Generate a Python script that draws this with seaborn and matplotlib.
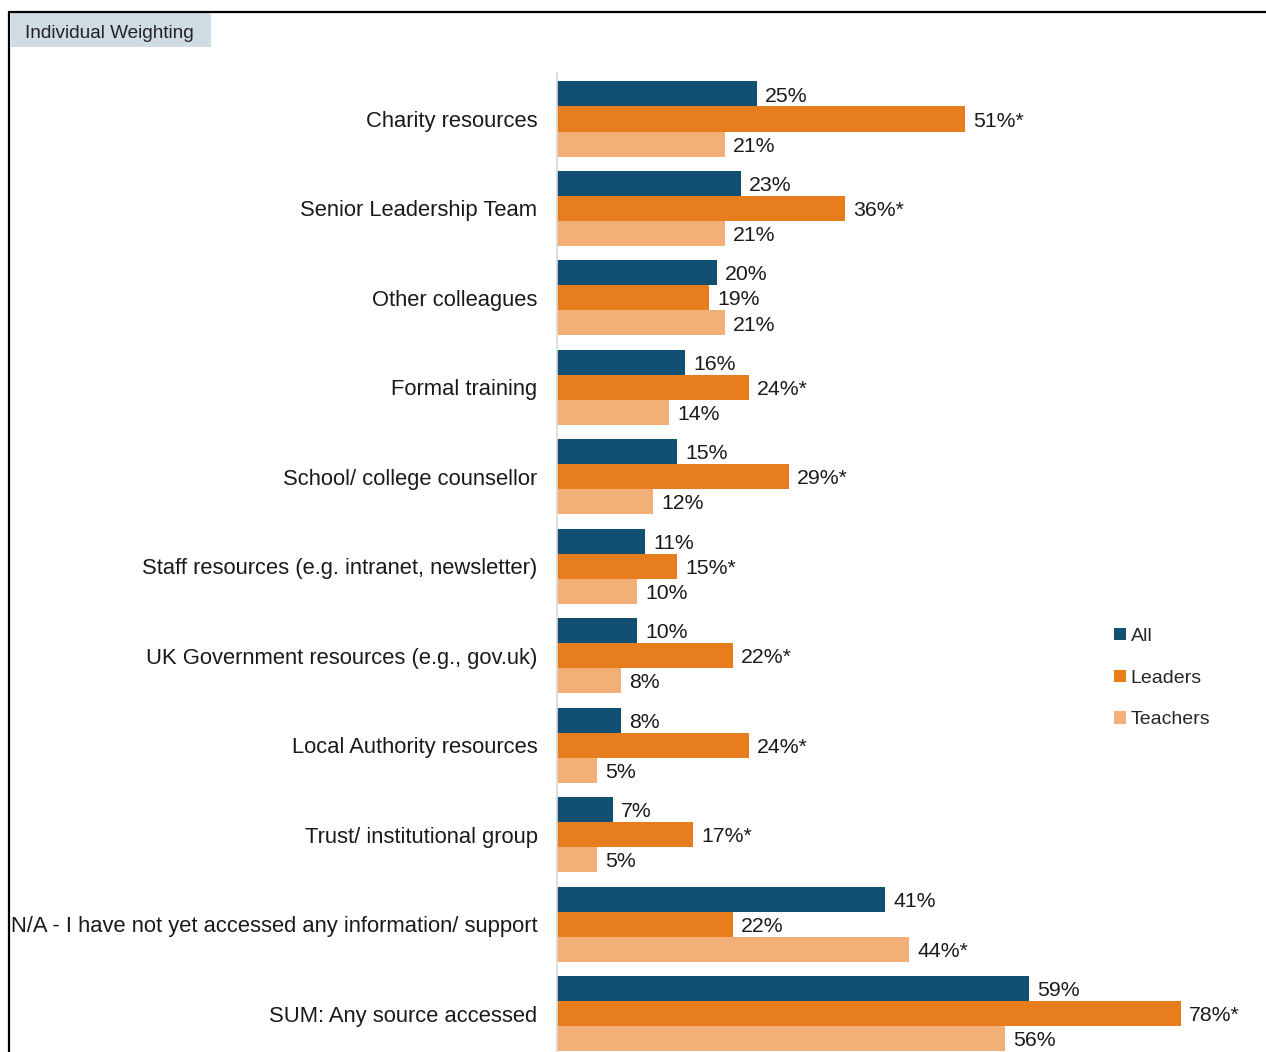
import matplotlib
matplotlib.use("Agg")
import matplotlib.pyplot as plt
import seaborn as sns
import pandas as pd
from matplotlib.lines import Line2D
from matplotlib.patches import Rectangle

categories = [
    "Charity resources",
    "Senior Leadership Team",
    "Other colleagues",
    "Formal training",
    "School/ college counsellor",
    "Staff resources (e.g. intranet, newsletter)",
    "UK Government resources (e.g., gov.uk)",
    "Local Authority resources",
    "Trust/ institutional group",
    "N/A - I have not yet accessed any information/ support",
    "SUM: Any source accessed",
]
series_names = ["All", "Leaders", "Teachers"]
all_vals = [25, 23, 20, 16, 15, 11, 10, 8, 7, 41, 59]
leaders_vals = [51, 36, 19, 24, 29, 15, 22, 24, 17, 22, 78]
teachers_vals = [21, 21, 21, 14, 12, 10, 8, 5, 5, 44, 56]
all_star = [False] * 11
leaders_star = [True, True, False, True, True, True, True, True, True, False, True]
teachers_star = [False] * 9 + [True, False]

colors = ["#114f73", "#e87d1e", "#f2b078"]

sns.set_theme(style="white")
plt.rcParams["font.family"] = ["Liberation Sans", "DejaVu Sans"]

rows = []
for name, vals, stars in zip(series_names, [all_vals, leaders_vals, teachers_vals],
                             [all_star, leaders_star, teachers_star]):
    for c, v, s in zip(categories, vals, stars):
        rows.append({"Category": c, "Series": name, "Value": v,
                     "Label": f"{v}%" + ("*" if s else "")})
df = pd.DataFrame(rows)

W, H = 1266, 1052
fig = plt.figure(figsize=(W / 100, H / 100), dpi=100)
ax = fig.add_axes([557 / W, 0, (W - 557) / W, 1 - 73 / H])

sns.barplot(data=df, y="Category", x="Value", hue="Series", order=categories,
            hue_order=series_names, palette=colors, orient="h", width=0.84,
            saturation=1, linewidth=0, ax=ax, legend=True)

for cont, name in zip(ax.containers, series_names):
    sub = df[df["Series"] == name].set_index("Category").loc[categories]
    for patch, lab in zip(cont.patches, sub["Label"]):
        x = patch.get_x() + patch.get_width()
        y = patch.get_y() + patch.get_height() / 2
        ax.annotate(lab, (x, y), xytext=(6, -1.5), textcoords="offset points",
                    ha="left", va="center", fontsize=15.3, color="#1a1a1a")

ax.set_xlim(0, (W - 557) / 8)
ax.set_ylim(10.43, -0.514)
ax.set_xlabel("")
ax.set_ylabel("")
ax.set_xticks([])
ax.tick_params(axis="y", length=0, pad=14, labelsize=15.8, labelcolor="#1a1a1a")
for lbl in ax.get_yticklabels():
    lbl.set_va("center_baseline")
for s in ["top", "right", "bottom"]:
    ax.spines[s].set_visible(False)
ax.spines["left"].set_color("#d9d9d9")
ax.spines["left"].set_linewidth(1.2)

handles, labels = ax.get_legend_handles_labels()
ax.legend_.remove()
fig.legend(handles, labels, loc="upper left",
           bbox_to_anchor=(1114 / W, 1 - 628 / H), frameon=False,
           fontsize=14, handlelength=0.6, handleheight=0.6,
           handletextpad=0.25, labelspacing=1.27, borderpad=0, borderaxespad=0)

# frame lines
fig.add_artist(Line2D([9 / W, 1], [1 - 12 / H, 1 - 12 / H], color="black", lw=1.6,
                      transform=fig.transFigure))
fig.add_artist(Line2D([9 / W, 9 / W], [0, 1 - 12 / H], color="black", lw=1.6,
                      transform=fig.transFigure))
fig.add_artist(Rectangle((10.5 / W, 1 - 47 / H), 200 / W, 34 / H,
                         facecolor="#d0dce4", edgecolor="none",
                         transform=fig.transFigure))
fig.text(25 / W, 1 - 34 / H, "Individual Weighting", fontsize=13.7, color="#222222",
         va="center", ha="left")

fig.savefig("out.png", dpi=100)
